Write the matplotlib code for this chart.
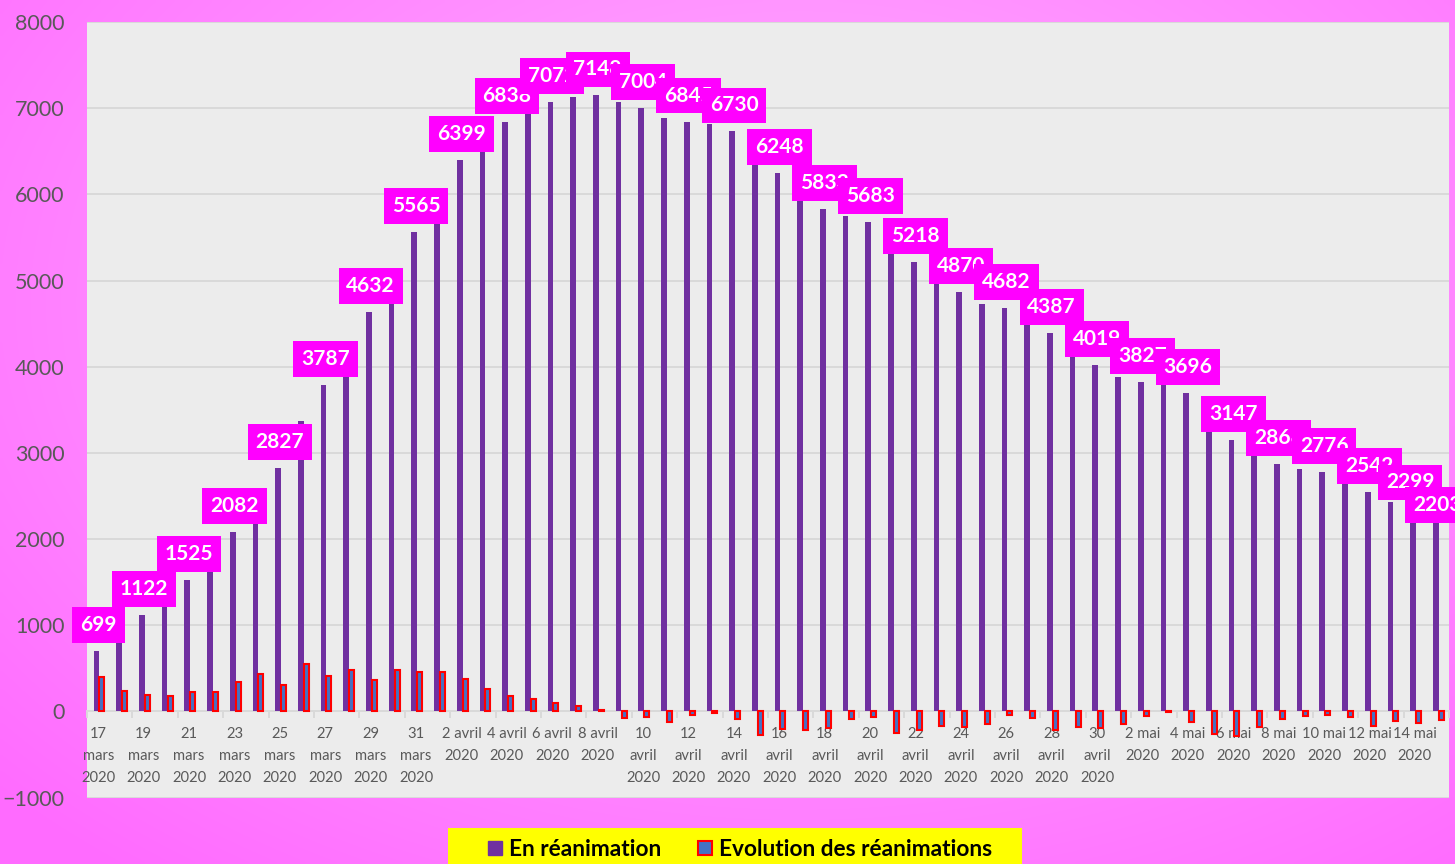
"""
Réanimations COVID-19 en France, 17 mars - 15 mai 2020.

Barres violettes : patients en réanimation.
Barres bleues (bord rouge) : évolution quotidienne.
"""

import numpy as np
import pandas as pd
import matplotlib
matplotlib.use("Agg")
import matplotlib.pyplot as plt
from matplotlib.lines import Line2D
from matplotlib.patches import Rectangle


DATES = pd.date_range("2020-03-17", "2020-05-15", freq="D")

EN_REANIMATION = [
    699, 931, 1122, 1297, 1525, 1746, 2082, 2516, 2827, 3375,
    3787, 4273, 4632, 5107, 5565, 6017, 6399, 6662, 6838, 6978,
    7072, 7131, 7148, 7066, 7004, 6883, 6845, 6821, 6730, 6457,
    6248, 6027, 5833, 5744, 5683, 5433, 5218, 5053, 4870, 4725,
    4682, 4608, 4387, 4207, 4019, 3878, 3827, 3819, 3696, 3430,
    3147, 2961, 2868, 2812, 2776, 2712, 2542, 2428, 2299, 2203,
]

EVOLUTION = [
    404, 232, 191, 175, 228, 221, 336, 434, 311, 548,
    412, 486, 359, 475, 458, 452, 382, 263, 176, 140,
    94, 59, 17, -82, -62, -121, -38, -24, -91, -273,
    -209, -221, -194, -89, -61, -250, -215, -165, -183, -145,
    -43, -74, -221, -180, -188, -141, -51, -8, -123, -266,
    -283, -186, -93, -56, -36, -64, -170, -114, -129, -96,
]

TICK_LABELS = [
    "17\nmars\n2020", "19\nmars\n2020", "21\nmars\n2020", "23\nmars\n2020",
    "25\nmars\n2020", "27\nmars\n2020", "29\nmars\n2020", "31\nmars\n2020",
    "2 avril\n2020", "4 avril\n2020", "6 avril\n2020", "8 avril\n2020",
    "10\navril\n2020", "12\navril\n2020", "14\navril\n2020", "16\navril\n2020",
    "18\navril\n2020", "20\navril\n2020", "22\navril\n2020", "24\navril\n2020",
    "26\navril\n2020", "28\navril\n2020", "30\navril\n2020",
    "2 mai\n2020", "4 mai\n2020", "6 mai\n2020", "8 mai\n2020",
    "10 mai\n2020", "12 mai\n2020", "14 mai\n2020",
]

# one data label every other day, plus the last day
LABELLED_DAYS = list(range(0, len(DATES), 2)) + [len(DATES) - 1]

PURPLE = "#7030a0"
BLUE = "#4472c4"
RED = "#ff0000"
MAGENTA = "#ff00ff"
GRID = "#d9d9d9"
TEXT = "#595959"

# small nudges (points) for the two crowded labels at the right end
LABEL_NUDGE = {58: (-3.5, 3.5), 59: (0, -7)}

plt.rcParams["font.family"] = ["Lato", "DejaVu Sans"]

fig = plt.figure(figsize=(14.55, 8.64), dpi=100)

# pink gradient background
bg = fig.add_axes([0, 0, 1, 1], zorder=-10)
yy, xx = np.mgrid[0:1:200j, 0:1:300j]
dist = np.clip(np.sqrt(((xx - 0.55) / 0.75) ** 2 + ((yy - 0.35) / 0.85) ** 2), 0, 1)
inner = np.array([1.0, 0.70, 1.0])
outer = np.array([1.0, 0.42, 1.0])
img = inner[None, None, :] * (1 - dist[..., None]) + outer[None, None, :] * dist[..., None]
bg.imshow(img, aspect="auto", interpolation="bilinear", extent=[0, 1, 0, 1])
bg.set_axis_off()

ax = fig.add_axes([87 / 1455, 1 - 797.6 / 864, (1449 - 87) / 1455, (797.6 - 22) / 864])
ax.set_facecolor("#ececec")

# spine position first: moving it resets the x ticks
for side in ("left", "right", "top"):
    ax.spines[side].set_visible(False)
ax.spines["bottom"].set_position(("data", 0))
ax.spines["bottom"].set_color(GRID)
ax.spines["bottom"].set_linewidth(1.4)
ax.spines["bottom"].set_zorder(2)

x = np.arange(len(DATES))
ax.bar(x - 0.08, EN_REANIMATION, width=0.25, color=PURPLE, zorder=3)
ax.bar(x + 0.16, EVOLUTION, width=0.22, color=BLUE, edgecolor=RED,
       linewidth=1.5, zorder=3)

for i in LABELLED_DAYS:
    dx, dy = LABEL_NUDGE.get(i, (0, 0))
    ax.annotate(
        str(EN_REANIMATION[i]),
        xy=(x[i], EN_REANIMATION[i]),
        xytext=(dx, 11.5 + dy), textcoords="offset points",
        ha="center", va="bottom", color="white", fontsize=15,
        fontweight="bold", zorder=10, annotation_clip=False, clip_on=False,
        bbox=dict(boxstyle="square,pad=0.38", facecolor=MAGENTA, edgecolor="none"),
    )

ax.set_xlim(-0.5, len(DATES) - 0.5)
ax.set_ylim(-1000, 8000)
ax.set_yticks(range(-1000, 8001, 1000))
ax.yaxis.grid(True, color=GRID, linewidth=1.4, zorder=0)
ax.set_axisbelow(True)
ax.tick_params(axis="y", length=0, pad=16, labelsize=15.5, labelcolor=TEXT)

ax.set_xticks(x[::2])
ax.set_xticklabels(TICK_LABELS, fontsize=10.6, color=TEXT, linespacing=1.72)
ax.set_xticks(np.arange(-0.5, len(DATES), 2), minor=True)
ax.tick_params(axis="x", which="major", length=0, pad=11)
ax.tick_params(axis="x", which="minor", length=5, width=1.4, color=GRID)

# legend on a yellow band
fig.patches.append(Rectangle((448 / 1455, 0), (1022 - 448) / 1455, 36 / 864,
                             transform=fig.transFigure, facecolor="#ffff00",
                             edgecolor="none", zorder=1))
handles = [
    Line2D([], [], marker="s", linestyle="none", markersize=10,
           markerfacecolor=PURPLE, markeredgecolor=PURPLE),
    Line2D([], [], marker="s", linestyle="none", markersize=10,
           markerfacecolor=BLUE, markeredgecolor=RED, markeredgewidth=1.5),
]
leg = fig.legend(handles, ["En réanimation", "Evolution des réanimations"],
                 loc="center", bbox_to_anchor=(739 / 1455, 1 - 849 / 864),
                 ncol=2, frameon=False, handlelength=0.8, handletextpad=0.22,
                 columnspacing=1.5, prop={"weight": "bold", "size": 16.3})
leg.set_zorder(5)

fig.savefig("out.png", dpi=100)
